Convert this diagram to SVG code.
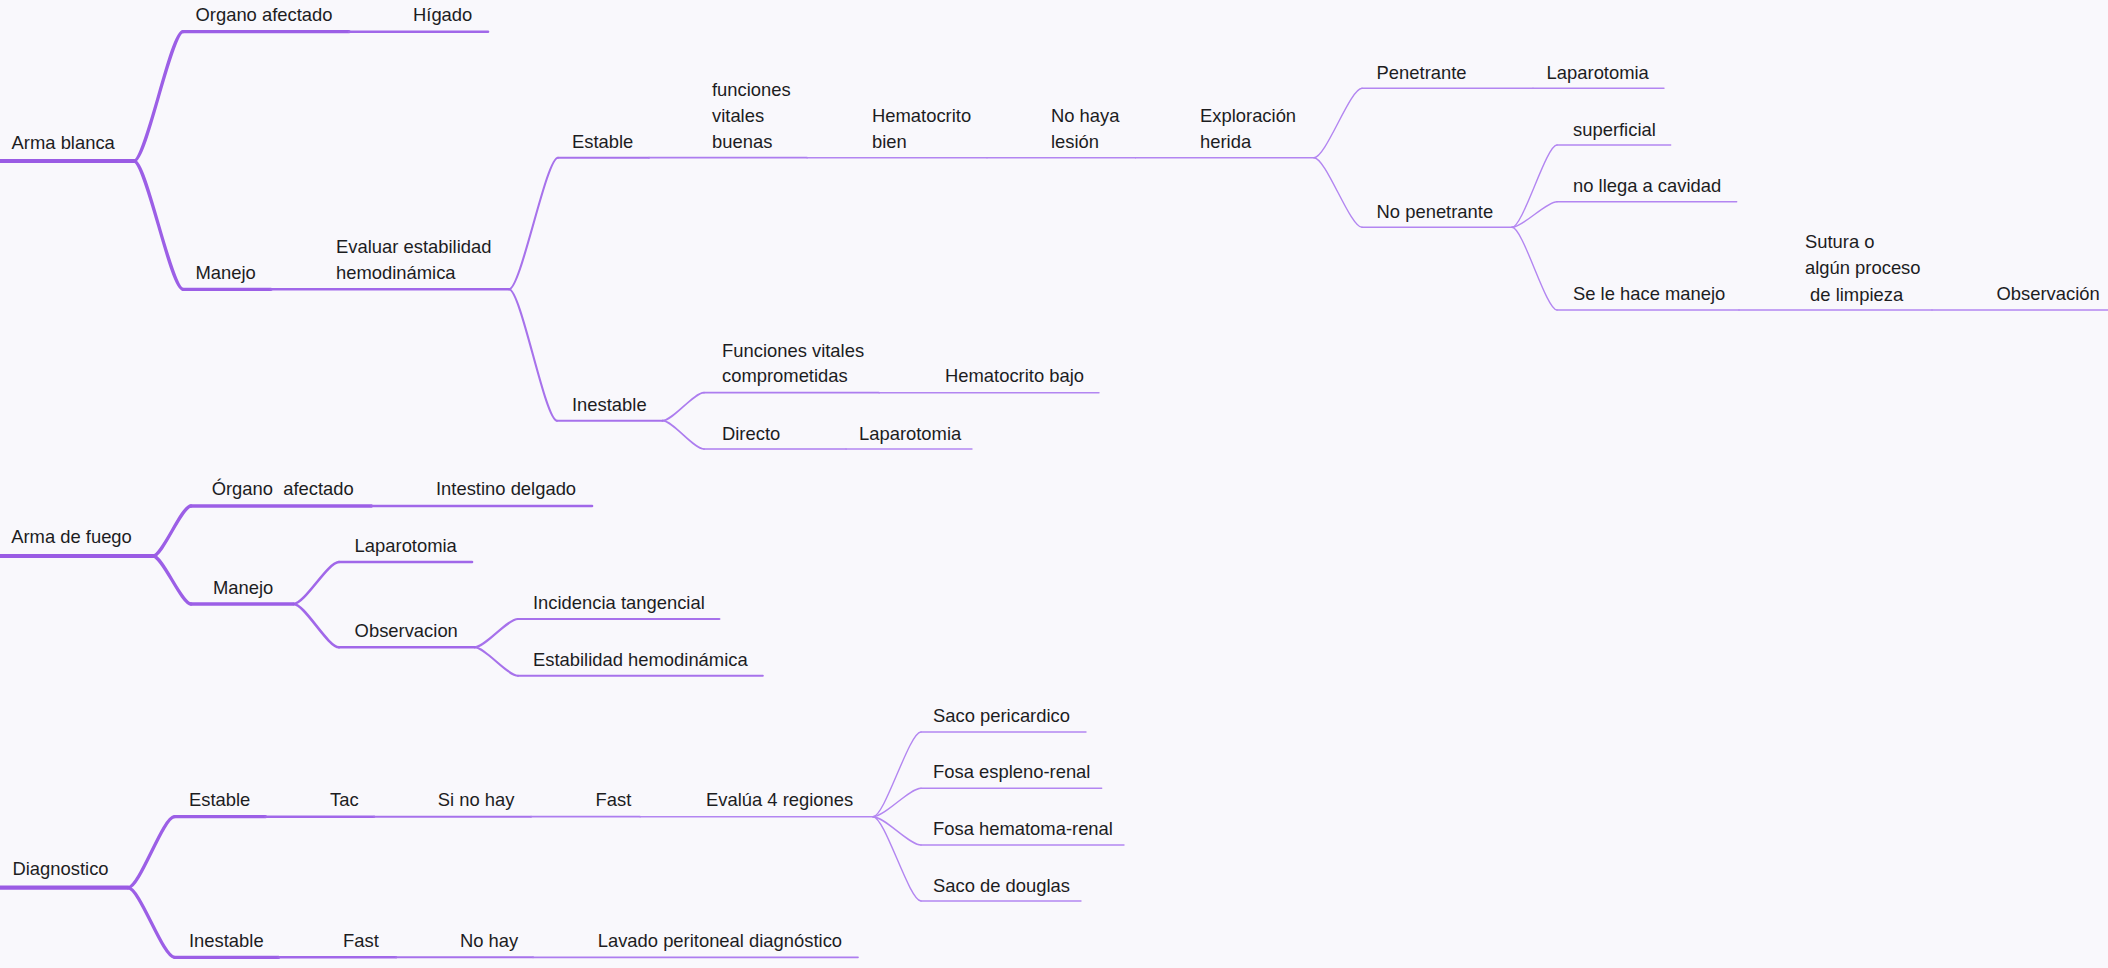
<svg xmlns="http://www.w3.org/2000/svg" width="2108" height="968" viewBox="0 0 2108 968">
<style>
text{font-family:"Liberation Sans",Arial,sans-serif;font-size:18.4px;fill:#1d1d1f;white-space:pre}
path{fill:none;stroke-linecap:round}
.l0{stroke:#9a5be4;stroke-width:4.2}
.l1{stroke:#9c5fe6;stroke-width:3.3}
.l2{stroke:#a168e9;stroke-width:2.6}
.l3{stroke:#a772eb;stroke-width:2.1}
.l4{stroke:#ad7def;stroke-width:1.7}
.l5{stroke:#b386f1;stroke-width:1.4}
</style>
<rect width="2108" height="968" fill="#f9f8fc"/>
<g id="connectors">
<path class="l1" d="M134 161 C146 161 171 31.7 183 31.7"/>
<path class="l1" d="M134 161 C146 161 171 289.3 183 289.3"/>
<path class="l3" d="M509 289.3 C521 289.3 546 157.7 558 157.7"/>
<path class="l3" d="M509 289.3 C521 289.3 545 420.7 557 420.7"/>
<path class="l5" d="M1314 157.7 C1326 157.7 1350 88.3 1362 88.3"/>
<path class="l5" d="M1314 157.7 C1326 157.7 1350 227.3 1362 227.3"/>
<path class="l5" d="M1512 227.3 C1523 227.3 1546 145 1557 145"/>
<path class="l5" d="M1512 227.3 C1523 227.3 1546 201.7 1557 201.7"/>
<path class="l5" d="M1512 227.3 C1523 227.3 1546 310 1557 310"/>
<path class="l4" d="M662.5 420.7 C673 420.7 693.5 392.7 704 392.7"/>
<path class="l4" d="M662.5 420.7 C673 420.7 693.5 449 704 449"/>
<path class="l1" d="M153 556 C162.5 556 181.5 506 191 506"/>
<path class="l1" d="M153 556 C162.5 556 181.5 604 191 604"/>
<path class="l2" d="M293.4 604 C304.8 604 327.6 562 339 562"/>
<path class="l2" d="M293.4 604 C304.8 604 327.6 647.3 339 647.3"/>
<path class="l3" d="M474.5 647.3 C485.4 647.3 507.1 619 518 619"/>
<path class="l3" d="M474.5 647.3 C485.4 647.3 507.1 675.7 518 675.7"/>
<path class="l1" d="M128 887.7 C139.6 887.7 162.9 816.7 174.5 816.7"/>
<path class="l1" d="M128 887.7 C139.6 887.7 162.9 957.3 174.5 957.3"/>
<path class="l5" d="M873 816.7 C885 816.7 909 732 921 732"/>
<path class="l5" d="M873 816.7 C885 816.7 909 788.3 921 788.3"/>
<path class="l5" d="M873 816.7 C885 816.7 909 845 921 845"/>
<path class="l5" d="M873 816.7 C885 816.7 909 901 921 901"/>
</g>
<g id="n-arma-blanca"><path class="l0" d="M0 161 H134"/><text x="11.6" y="149">Arma blanca</text></g>
<g id="n-organo-afectado"><path class="l1" d="M183 31.7 H349"/><text x="195.5" y="21">Organo afectado</text></g>
<g id="n-higado"><path class="l2" d="M349 31.7 H488"/><text x="413" y="21">Hígado</text></g>
<g id="n-manejo-1"><path class="l1" d="M183 289.3 H271"/><text x="195.5" y="279">Manejo</text></g>
<g id="n-evaluar"><path class="l2" d="M271 289.3 H509"/><text x="336" y="253">Evaluar estabilidad</text><text x="336" y="279">hemodinámica</text></g>
<g id="n-estable-1"><path class="l3" d="M558 157.7 H649"/><text x="572" y="147.7">Estable</text></g>
<g id="n-funciones"><path class="l4" d="M649 157.7 H807"/><text x="712" y="96">funciones</text><text x="712" y="121.7">vitales</text><text x="712" y="147.7">buenas</text></g>
<g id="n-hematocrito-bien"><path class="l5" d="M807 157.7 H987"/><text x="872" y="121.7">Hematocrito</text><text x="872" y="147.7">bien</text></g>
<g id="n-no-haya"><path class="l5" d="M987 157.7 H1135.5"/><text x="1051" y="121.7">No haya</text><text x="1051" y="147.7">lesión</text></g>
<g id="n-exploracion"><path class="l5" d="M1135.5 157.7 H1314"/><text x="1200" y="121.7">Exploración</text><text x="1200" y="147.7">herida</text></g>
<g id="n-penetrante"><path class="l5" d="M1362 88.3 H1533"/><text x="1376.6" y="79.3">Penetrante</text></g>
<g id="n-laparotomia-1"><path class="l5" d="M1533 88.3 H1664"/><text x="1546.6" y="79.3">Laparotomia</text></g>
<g id="n-no-penetrante"><path class="l5" d="M1362 227.3 H1512"/><text x="1376.6" y="218.3">No penetrante</text></g>
<g id="n-superficial"><path class="l5" d="M1557 145 H1670.7"/><text x="1573" y="135.7">superficial</text></g>
<g id="n-no-llega"><path class="l5" d="M1557 201.7 H1736.7"/><text x="1573" y="192.3">no llega a cavidad</text></g>
<g id="n-se-le-hace"><path class="l5" d="M1557 310 H1739"/><text x="1573" y="300">Se le hace manejo</text></g>
<g id="n-sutura"><path class="l5" d="M1739 310 H1932"/><text x="1805" y="248.3">Sutura o</text><text x="1805" y="274.3">algún proceso</text><text x="1805" y="300.7"> de limpieza</text></g>
<g id="n-observacion-1"><path class="l5" d="M1932 310 H2108"/><text x="1996.5" y="300">Observación</text></g>
<g id="n-inestable-1"><path class="l3" d="M557 420.7 H662.5"/><text x="572" y="411">Inestable</text></g>
<g id="n-comprometidas"><path class="l4" d="M704 392.7 H879"/><text x="722" y="356.7">Funciones vitales</text><text x="722" y="382.3">comprometidas</text></g>
<g id="n-hematocrito-bajo"><path class="l5" d="M879 392.7 H1099"/><text x="945" y="382.3">Hematocrito bajo</text></g>
<g id="n-directo"><path class="l4" d="M704 449 H846"/><text x="722" y="440">Directo</text></g>
<g id="n-laparotomia-2"><path class="l5" d="M846 449 H972"/><text x="859" y="440">Laparotomia</text></g>
<g id="n-arma-fuego"><path class="l0" d="M0 556 H153"/><text x="11.2" y="543.3">Arma de fuego</text></g>
<g id="n-organo-2"><path class="l1" d="M191 506 H371.4"/><text x="211.7" y="495">Órgano  afectado</text></g>
<g id="n-intestino"><path class="l2" d="M371.4 506 H592"/><text x="436" y="495">Intestino delgado</text></g>
<g id="n-manejo-2"><path class="l1" d="M191 604 H293.4"/><text x="213" y="594">Manejo</text></g>
<g id="n-laparotomia-3"><path class="l2" d="M339 562 H472"/><text x="354.6" y="551.7">Laparotomia</text></g>
<g id="n-observacion-2"><path class="l2" d="M339 647.3 H474.5"/><text x="354.6" y="637.3">Observacion</text></g>
<g id="n-incidencia"><path class="l3" d="M518 619 H719.4"/><text x="533" y="609">Incidencia tangencial</text></g>
<g id="n-estabilidad"><path class="l3" d="M518 675.7 H762.8"/><text x="533" y="666">Estabilidad hemodinámica</text></g>
<g id="n-diagnostico"><path class="l0" d="M0 887.7 H128"/><text x="12.5" y="875">Diagnostico</text></g>
<g id="n-estable-2"><path class="l1" d="M174.5 816.7 H265.5"/><text x="189" y="805.7">Estable</text></g>
<g id="n-tac"><path class="l2" d="M265.5 816.7 H374"/><text x="330" y="805.7">Tac</text></g>
<g id="n-si-no-hay"><path class="l3" d="M374 816.7 H531"/><text x="437.8" y="805.7">Si no hay</text></g>
<g id="n-fast-1"><path class="l4" d="M531 816.7 H640"/><text x="595.5" y="805.7">Fast</text></g>
<g id="n-evalua"><path class="l5" d="M640 816.7 H873"/><text x="706" y="805.7">Evalúa 4 regiones</text></g>
<g id="n-saco-pericardico"><path class="l5" d="M921 732 H1086"/><text x="933" y="722">Saco pericardico</text></g>
<g id="n-fosa-espleno"><path class="l5" d="M921 788.3 H1101.7"/><text x="933" y="778.3">Fosa espleno-renal</text></g>
<g id="n-fosa-hematoma"><path class="l5" d="M921 845 H1124"/><text x="933" y="835">Fosa hematoma-renal</text></g>
<g id="n-saco-douglas"><path class="l5" d="M921 901 H1081"/><text x="933" y="891.7">Saco de douglas</text></g>
<g id="n-inestable-2"><path class="l1" d="M174.5 957.3 H278.7"/><text x="189" y="946.7">Inestable</text></g>
<g id="n-fast-2"><path class="l2" d="M278.7 957.3 H396"/><text x="343" y="946.7">Fast</text></g>
<g id="n-no-hay"><path class="l3" d="M396 957.3 H533"/><text x="460" y="946.7">No hay</text></g>
<g id="n-lavado"><path class="l4" d="M533 957.3 H858"/><text x="597.7" y="946.7">Lavado peritoneal diagnóstico</text></g>
</svg>
